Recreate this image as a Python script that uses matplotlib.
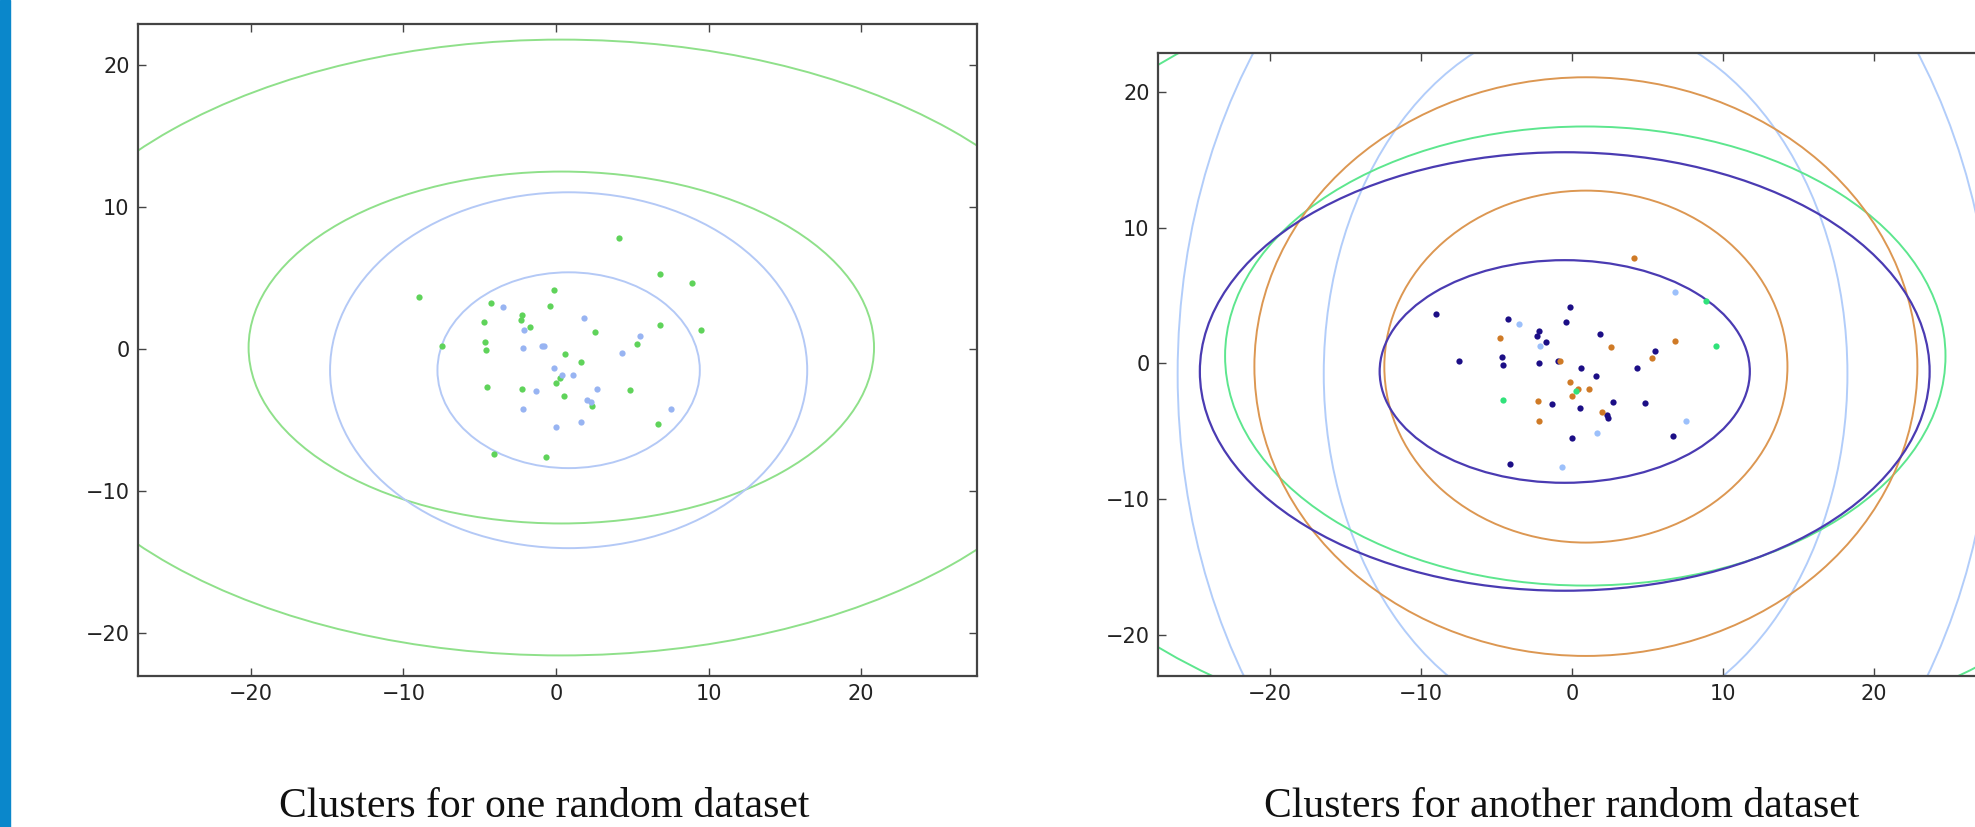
"""Two panels of cluster ellipses over the same scatter of points."""
import matplotlib
matplotlib.use('Agg')
import matplotlib.pyplot as plt
from matplotlib.patches import Ellipse, Rectangle

# point coordinates (same points in both panels)
xs = [-8.98, -7.49, -4.23, -3.50, -4.74, -4.65, -4.57, -2.20, -2.29, -2.10,
      -1.70, -2.16, -0.90, -0.80, -0.10, -0.38, 1.83, 2.57, 5.50, 5.28,
      4.33, 6.80, 9.50, 0.57, 1.61, -0.10, 1.10, 0.38, 0.28, 0.03,
      -1.33, -2.22, -4.55, 2.70, 0.52, 2.01, 2.32, 2.36, -2.16, 1.67,
      0.01, 4.84, 7.53, 6.66, -4.07, -0.64, 4.10, 6.81, 8.89]
ys = [3.68, 0.20, 3.25, 2.94, 1.90, 0.50, -0.08, 2.40, 2.01, 1.30,
      1.55, 0.07, 0.22, 0.22, 4.18, 3.03, 2.17, 1.20, 0.90, 0.37,
      -0.31, 1.69, 1.30, -0.33, -0.95, -1.33, -1.86, -1.86, -2.02, -2.37,
      -2.97, -2.80, -2.70, -2.81, -3.30, -3.59, -3.77, -4.00, -4.25, -5.16,
      -5.53, -2.90, -4.22, -5.32, -7.42, -7.65, 7.79, 5.28, 4.63]

# cluster labels for each panel
labels_one = [0, 0, 0, 1, 0, 0, 0, 0, 0, 1,
              0, 1, 1, 1, 0, 0, 1, 0, 1, 0,
              1, 0, 0, 0, 0, 1, 1, 1, 0, 0,
              1, 0, 0, 1, 0, 1, 1, 0, 1, 1,
              1, 0, 1, 0, 0, 0, 0, 0, 0]
labels_two = [0, 0, 0, 2, 1, 0, 0, 0, 0, 2,
              0, 0, 0, 1, 0, 0, 0, 1, 0, 1,
              0, 1, 3, 0, 0, 1, 1, 1, 3, 1,
              0, 1, 3, 0, 0, 1, 0, 0, 1, 2,
              0, 0, 2, 0, 0, 2, 1, 2, 3]

# ellipses: cluster, center x, center y, semi-axis x, semi-axis y
ell_one = [(0, 0.35, 0.10, 20.5, 12.4), (0, 0.35, 0.10, 36.1, 21.7),
           (1, 0.83, -1.50, 8.6, 6.9), (1, 0.83, -1.50, 15.64, 12.54)]
ell_two = [(2, 0.90, -0.77, 17.33, 26.18), (2, 0.90, -0.77, 27.0, 40.8),
           (3, 0.88, 0.55, 23.84, 16.93), (3, 0.88, 0.55, 41.4, 29.4),
           (1, 0.92, -0.23, 13.34, 12.98), (1, 0.92, -0.23, 21.94, 21.34),
           (0, -0.48, -0.59, 12.25, 8.21), (0, -0.48, -0.59, 24.15, 16.17)]

dot_one = ['#5fd35a', '#98b4f2']
line_one = ['#8fe08a', '#b4c9f6']
dot_two = ['#1c0e86', '#cf7a26', '#9cc0fb', '#30e27a']
line_two = ['#4a3bb2', '#dc9752', '#b2cdfa', '#5de68e']

titles = ['Clusters for one random dataset', 'Clusters for another random dataset']
ticks = [-20, -10, 0, 10, 20]

fig = plt.figure(figsize=(19.75, 8.27), dpi=100)
fig.patch.set_facecolor('white')
fig.add_artist(Rectangle((0, 0), 10 / 1975, 1, transform=fig.transFigure,
                         color='#0a87cb', zorder=0))

ax1 = fig.add_axes([138 / 1975, 1 - 676 / 827, 839 / 1975, 652 / 827])
ax2 = fig.add_axes([1158 / 1975, 1 - 676 / 827, 831 / 1975, 623 / 827])


def draw(ax, labels, ells, dots, lines):
    for c, cx, cy, a, b in ells:
        ax.add_patch(Ellipse((cx, cy), 2 * a, 2 * b, fill=False,
                             edgecolor=lines[c], lw=1.6 if lines[c] == '#4a3bb2' else 1.4))
    for k in range(len(dots)):
        px = [x for x, l in zip(xs, labels) if l == k]
        py = [y for y, l in zip(ys, labels) if l == k]
        ax.plot(px, py, 'o', ms=4.5, color=dots[k], mec='none', zorder=3)
    ax.set_xlim(-27.4, 27.6)
    ax.set_ylim(-23.05, 22.9)
    ax.set_xticks(ticks)
    ax.set_yticks(ticks)
    ax.set_xticklabels(['\u221220', '\u221210', '0', '10', '20'])
    ax.set_yticklabels(['\u221220', '\u221210', '0', '10', '20'])
    ax.tick_params(direction='in', top=True, right=True, length=6, width=1,
                   labelsize=15, pad=6, color='#444444', labelcolor='#222222')
    for s in ax.spines.values():
        s.set_color('#444444')
        s.set_linewidth(1.6)


draw(ax1, labels_one, ell_one, dot_one, line_one)
draw(ax2, labels_two, ell_two, dot_two, line_two)

fig.text(544.5 / 1975, 1 / 827, titles[0], ha='center', va='bottom',
         family='Liberation Serif', fontsize=30, color='#111111')
fig.text(1561.5 / 1975, 1 / 827, titles[1], ha='center', va='bottom',
         family='Liberation Serif', fontsize=30, color='#111111')

fig.savefig('out.png', dpi=100)
